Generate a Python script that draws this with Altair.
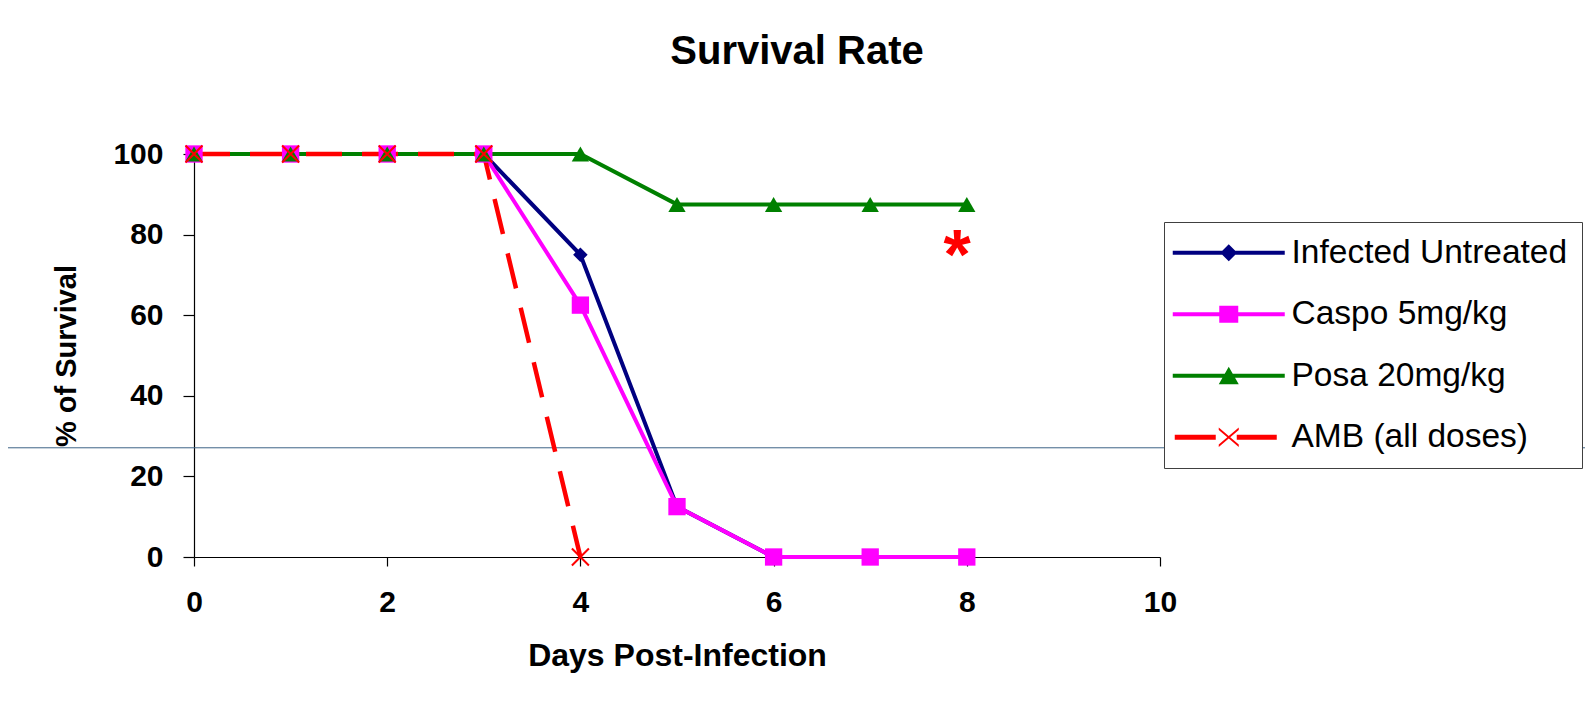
import altair as alt
import pandas as pd

# ---- data ----
days = [0, 1, 2, 3, 4, 5, 6, 7, 8]
infected_untreated = [100, 100, 100, 100, 75, 12.5, 0, 0, 0]
caspo_5 = [100, 100, 100, 100, 62.5, 12.5, 0, 0, 0]
posa_20 = [100, 100, 100, 100, 100, 87.5, 87.5, 87.5, 87.5]
amb_days = [0, 1, 2, 3, 4]
amb_all = [100, 100, 100, 100, 0]

series_names = ["Infected Untreated", "Caspo 5mg/kg", "Posa 20mg/kg", "AMB (all doses)"]
series_colors = ["#000080", "#FF00FF", "#008000", "#FF0000"]

x_ticks = [0, 2, 4, 6, 8, 10]
y_ticks = [0, 20, 40, 60, 80, 100]

star_day = [7.9]
star_value = [77.5]
slide_line_value = [27.1]

# ---- tables ----
rows = []
for name, xs, ys in [
    (series_names[0], days, infected_untreated),
    (series_names[1], days, caspo_5),
    (series_names[2], days, posa_20),
    (series_names[3], amb_days, amb_all),
]:
    for d, v in zip(xs, ys):
        rows.append({"series": name, "day": d, "value": v})
df = pd.DataFrame(rows)
star_df = pd.DataFrame({"day": star_day, "value": star_value, "txt": ["*"]})
line_df = pd.DataFrame({"value": slide_line_value})

FONT = "Liberation Sans"

x_enc = alt.X("day:Q", scale=alt.Scale(domain=[0, 10], nice=False),
              axis=alt.Axis(values=x_ticks, title="Days Post-Infection", format="d",
                            labelFont=FONT, labelFontSize=30, labelFontWeight="bold",
                            labelColor="black", labelPadding=21, labelAngle=0, labelFlush=False,
                            tickSize=9, tickColor="black", domainColor="black",
                            domainWidth=1.2, tickWidth=1.2, grid=False,
                            titleFont=FONT, titleFontSize=32, titleFontWeight="bold",
                            titleColor="black", titlePadding=23))
y_enc = alt.Y("value:Q", scale=alt.Scale(domain=[0, 100], nice=False),
              axis=alt.Axis(values=y_ticks, title="% of Survival", format="d",
                            labelFont=FONT, labelFontSize=30, labelFontWeight="bold",
                            labelColor="black", labelPadding=20, labelFlush=False,
                            tickSize=11, tickColor="black", domainColor="black",
                            domainWidth=1.2, tickWidth=1.2, grid=False,
                            titleFont=FONT, titleFontSize=29, titleFontWeight="bold",
                            titleColor="black", titlePadding=31))

base = alt.Chart(df)

# slide decoration line behind the chart
slide_line = alt.Chart(line_df).mark_rule(color="#3e6386", strokeWidth=1).encode(
    y=alt.Y("value:Q"), x=alt.value(-200), x2=alt.value(1420))

layers = [slide_line]

# lines
for i, name in enumerate(series_names):
    props = dict(color=series_colors[i], strokeWidth=4, strokeJoin="round")
    if i == 3:
        props.update(strokeDash=[36, 20], strokeWidth=4.5)
    layers.append(
        base.transform_filter(alt.datum.series == name).mark_line(**props).encode(
            x=x_enc, y=y_enc, order="day:Q")
    )

# markers
layers.append(base.transform_filter(alt.datum.series == series_names[0]).mark_point(
    shape="diamond", filled=True, size=210, color=series_colors[0], opacity=1).encode(x="day:Q", y="value:Q"))
layers.append(base.transform_filter(alt.datum.series == series_names[1]).mark_point(
    shape="square", filled=True, size=300, color=series_colors[1], opacity=1).encode(x="day:Q", y="value:Q"))
layers.append(base.transform_filter(alt.datum.series == series_names[2]).mark_point(
    shape="triangle-up", filled=True, size=300, color=series_colors[2], opacity=1).encode(x="day:Q", y="value:Q"))
layers.append(base.transform_filter(alt.datum.series == series_names[3]).mark_point(
    shape="M-1,-1L1,1M-1,1L1,-1", filled=False, size=289, stroke=series_colors[3],
    strokeWidth=2, opacity=1).encode(x="day:Q", y="value:Q"))

# significance asterisk
layers.append(alt.Chart(star_df).mark_text(
    font=FONT, fontSize=70, fontWeight="bold", color="#FF0000", align="center",
    baseline="alphabetic", dy=34).encode(x="day:Q", y="value:Q", text="txt:N"))

# legend (line + marker symbols as custom paths, r = 10px per unit)
line_rect = "M-5.6,-0.2H5.6V0.2H-5.6Z"
legend_paths = [
    line_rect + "M0,-0.85L0.85,0L0,0.85L-0.85,0Z",
    line_rect + "M-0.95,-0.85H0.95V0.85H-0.95Z",
    line_rect + "M0,-0.9L1,0.85L-1,0.85Z",
    "M-5.4,-0.25H-1.3V0.25H-5.4Z M0.8,-0.25H4.8V0.25H0.8Z"
    "M-1,-0.97L1,0.73L1,0.97L-1,-0.73Z M-1,0.73L1,-0.97L1,-0.73L-1,0.97Z",
]
leg = alt.Legend(title=None, orient="none", legendX=970, legendY=68,
                 symbolSize=400, symbolStrokeWidth=0, symbolOffset=34, symbolOpacity=1,
                 labelOffset=46, labelFont=FONT, labelFontSize=33.5, labelColor="black",
                 labelLimit=600, rowPadding=26.5, padding=14,
                 strokeColor="#404040", fillColor="white")
layers.append(base.mark_point(filled=True, opacity=0).encode(
    x="day:Q", y="value:Q",
    color=alt.Color("series:N", scale=alt.Scale(domain=series_names, range=series_colors), legend=leg),
    shape=alt.Shape("series:N", scale=alt.Scale(domain=series_names, range=legend_paths), legend=leg),
))

chart = alt.layer(*layers).properties(
    width=966, height=403,
    padding={"left": 186, "top": 146, "right": 425, "bottom": 140},
    autosize=alt.AutoSizeParams(type="none"),
    title=alt.Title("Survival Rate", font=FONT, fontSize=40, fontWeight="bold", color="black",
                    anchor="middle", dx=120, baseline="alphabetic", offset=35),
    background="white",
).configure_view(stroke=None)

chart.save("out.html", embed_options={"renderer": "svg", "actions": False})
